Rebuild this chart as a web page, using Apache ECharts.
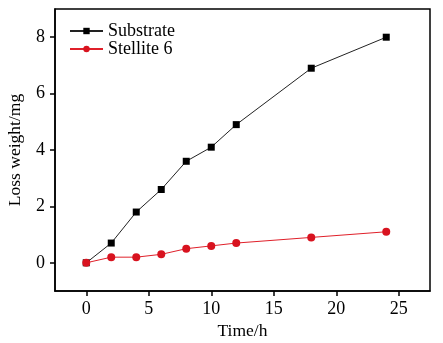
<!DOCTYPE html>
<html><head><meta charset="utf-8">
<script src="https://cdn.jsdelivr.net/npm/echarts@6/dist/echarts.min.js"></script>
<style>html,body{margin:0;padding:0;background:#fff}#c{width:443px;height:343px}</style>
</head><body><div id="c"></div>
<script>
const timeH = [0, 2, 4, 6, 8, 10, 12, 18, 24];
const substrate = [0, 0.7, 1.8, 2.6, 3.6, 4.1, 4.9, 6.9, 8.0];
const stellite6 = [0, 0.2, 0.2, 0.3, 0.5, 0.6, 0.7, 0.9, 1.1];
const xTicks = [0, 5, 10, 15, 20, 25];
const yTicks = [0, 2, 4, 6, 8];
const seriesNames = ['Substrate', 'Stellite 6'];

const font = 'Liberation Serif';
const chart = echarts.init(document.getElementById('c'));
const axisCommon = {
  axisLine: {show: true, onZero: false, lineStyle: {color: '#000', width: 1.5}},
  axisTick: {show: true, inside: false, length: 5, lineStyle: {color: '#000', width: 1.5}},
  splitLine: {show: false},
  axisLabel: {color: '#000', fontFamily: font, fontSize: 18},
  nameTextStyle: {color: '#000', fontFamily: font, fontSize: 17.5},
  nameLocation: 'middle'
};
chart.setOption({
  animation: false,
  backgroundColor: '#fff',
  grid: {left: 55, right: 13, top: 9, bottom: 52, show: true, borderColor: '#000', borderWidth: 1.5,
         containLabel: false, outerBoundsMode: 'none'},
  legend: {
    left: 64, top: 17, orient: 'vertical', itemGap: 0, itemWidth: 33, itemHeight: 8,
    textStyle: {fontFamily: font, fontSize: 18, color: '#000'},
    data: seriesNames
  },
  xAxis: Object.assign({}, axisCommon, {
    type: 'value', min: -2.5, max: 27.5, name: 'Time/h', nameGap: 29,
    axisTick: Object.assign({}, axisCommon.axisTick, {customValues: xTicks}),
    axisLabel: Object.assign({}, axisCommon.axisLabel, {customValues: xTicks, margin: 9})
  }),
  yAxis: Object.assign({}, axisCommon, {
    type: 'value', min: -1, max: 9, name: 'Loss weight/mg', nameGap: 31,
    axisTick: Object.assign({}, axisCommon.axisTick, {customValues: yTicks}),
    axisLabel: Object.assign({}, axisCommon.axisLabel, {customValues: yTicks, margin: 10})
  }),
  series: [
    {name: seriesNames[0], type: 'line', data: timeH.map((t, i) => [t, substrate[i]]),
     symbol: 'rect', symbolSize: 7, lineStyle: {color: '#222', width: 1}, itemStyle: {color: '#000'}},
    {name: seriesNames[1], type: 'line', data: timeH.map((t, i) => [t, stellite6[i]]),
     symbol: 'circle', symbolSize: 8, lineStyle: {color: '#e0202a', width: 1}, itemStyle: {color: '#d8131f'}}
  ]
});
</script></body></html>
